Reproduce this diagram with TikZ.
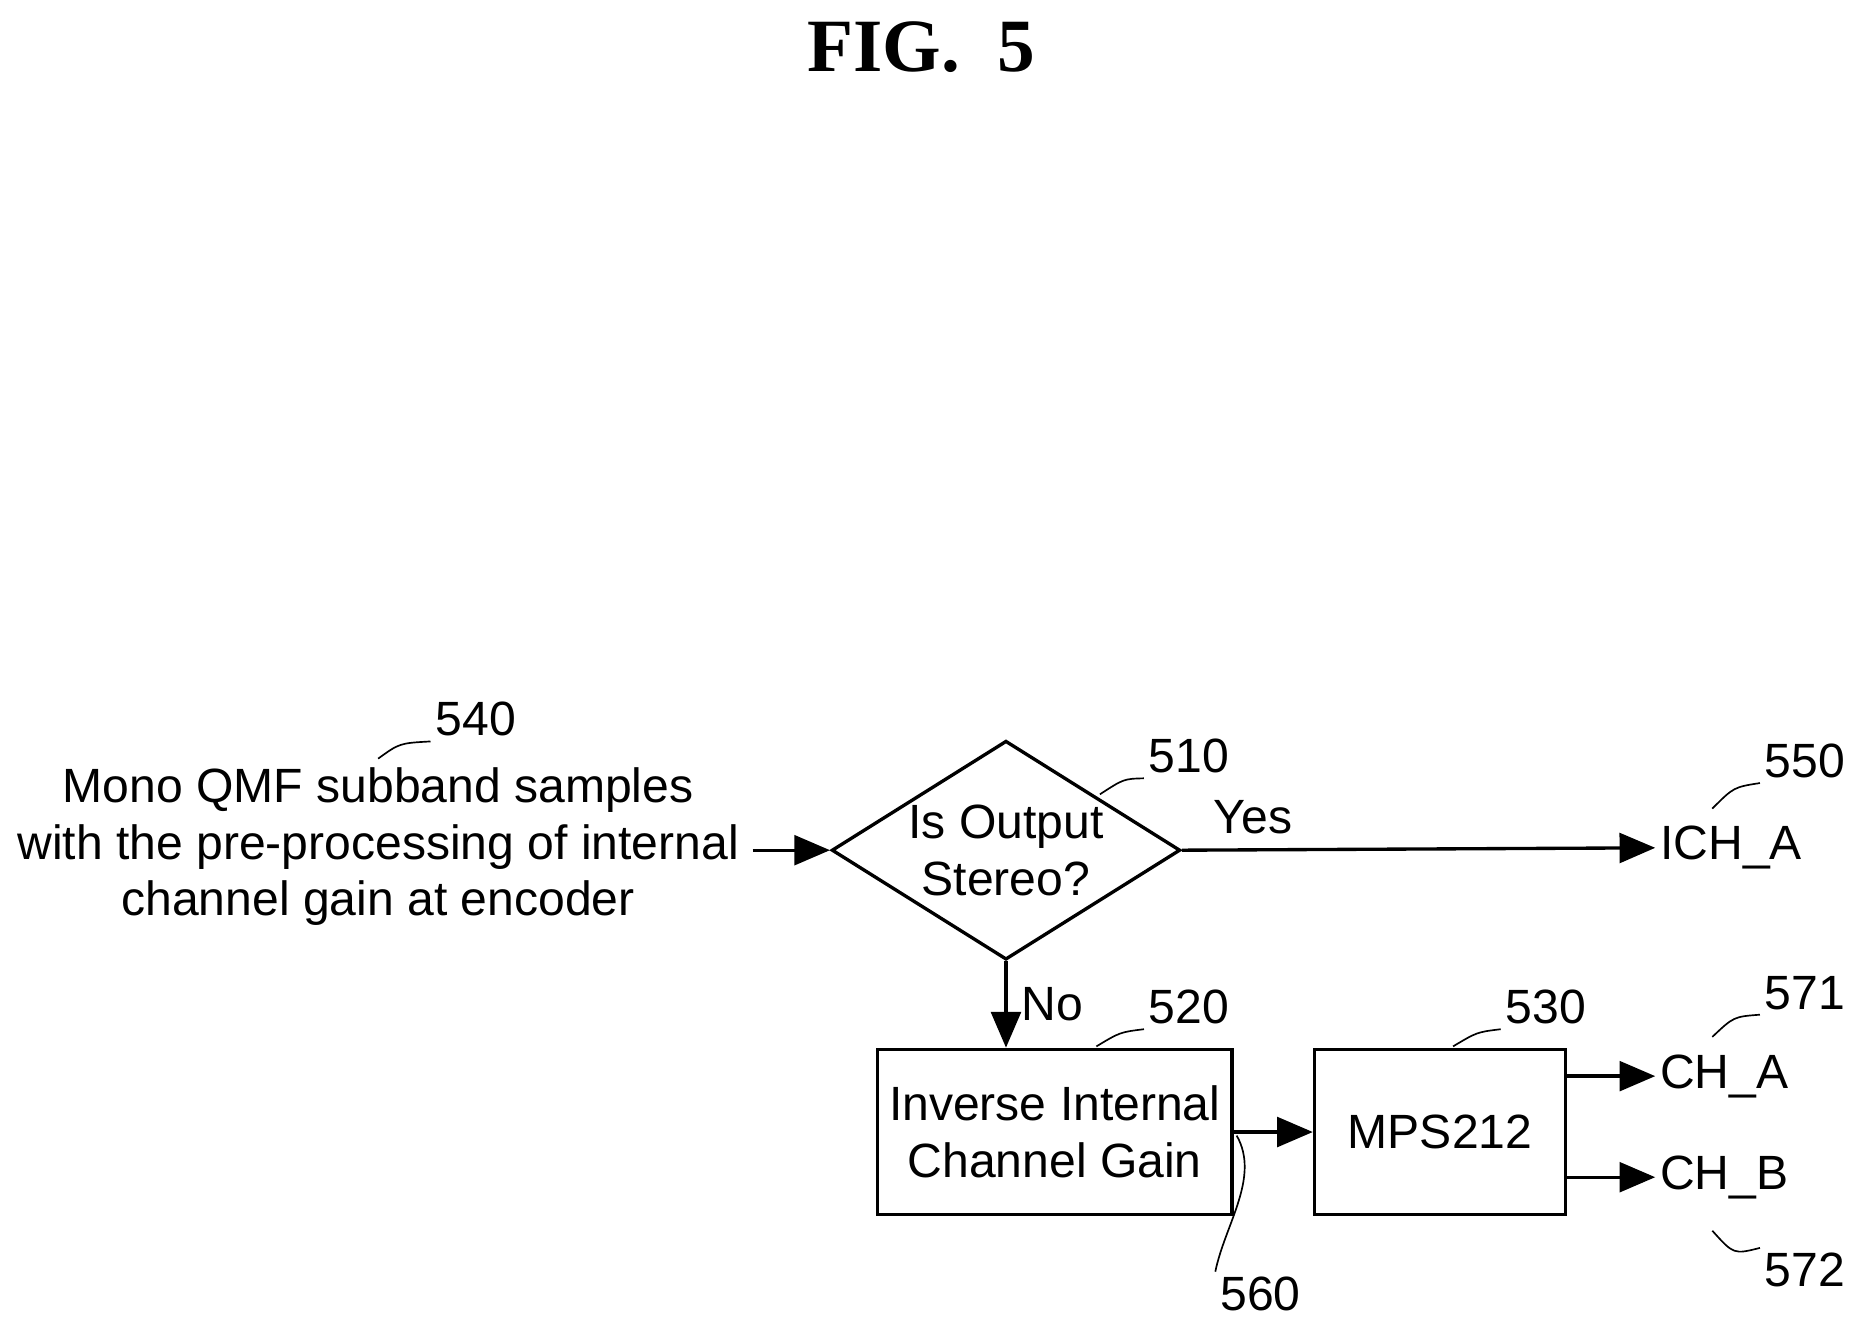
\documentclass[tikz,border=0pt]{standalone}
\usepackage{fontspec}
\setmainfont{Liberation Sans}
\newfontfamily\titlefont{Liberation Serif}
\usetikzlibrary{arrows.meta,shapes.geometric,positioning}

\begin{document}
\begin{tikzpicture}[
    x=0.01cm, y=-0.01cm,
    txt/.style={font=\fontsize{11.5}{13.6}\selectfont},
    block/.style={rectangle, draw, thick, minimum width=2.98cm, minimum height=1.39cm, align=center, txt, inner sep=0pt},
    decision/.style={diamond, draw, thick, minimum width=2.93cm, minimum height=1.84cm, aspect=1.6, align=center, txt, inner sep=0pt},
    tag/.style={txt, inner sep=1pt},
    flow/.style={-{Triangle[length=0.3cm,width=0.25cm]}, thick},
    lead/.style={thin}
]
\useasboundingbox (0,0) rectangle (1560,1116);

% Title
\node[font=\titlefont\bfseries\fontsize{18}{22}\selectfont] (title) at (775,40) {FIG.~~5};

% Input
\node[align=center, txt, inner sep=0pt] (input) at (318,712) {Mono QMF subband samples\\with the pre-processing of internal\\channel gain at encoder};
\coordinate (inEnd) at (633,715);

% Blocks
\node[decision] (stereo) at (846,715) {Is Output\\Stereo?};
\node[block] (gain) at (887,952) {Inverse Internal\\Channel Gain};
\node[block, minimum width=2.11cm] (mps) at (1211,952) {MPS212};

% Outputs
\node[tag, anchor=west] (ichA) at (1392,713) {ICH\_A};
\node[tag, anchor=west] (chA) at (1392,905) {CH\_A};
\node[tag, anchor=west] (chB) at (1392,990) {CH\_B};

% Arrows
\draw[flow] (inEnd) -- (stereo.west);
\draw[flow] (stereo.east) -- node[above, txt, pos=0.15] {Yes} (ichA.west);
\draw[flow] (stereo.south) -- node[right, txt] {No} (stereo.south |- gain.north);
\draw[flow] (gain.east) -- (mps.west);
\draw[flow] (mps.east |- chA) -- (chA.west);
\draw[flow] (mps.east |- chB) -- (chB.west);

% Reference numerals
\node[tag] (n540) at (400,605) {540};
\node[tag] (n510) at (1000,636) {510};
\node[tag] (n550) at (1518,640) {550};
\node[tag] (n520) at (1000,847) {520};
\node[tag] (n530) at (1300,847) {530};
\node[tag] (n571) at (1518,835) {571};
\node[tag] (n572) at (1518,1068) {572};
\node[tag] (n560) at (1060,1088) {560};

\draw[lead] (318,638) .. controls (336,625) .. (n540.south west);
\draw[lead] (925,668) .. controls (945,655) .. (n510.south west);
\draw[lead] (1440,680) .. controls (1458,662) .. (n550.south west);
\draw[lead] (922,880) .. controls (942,868) .. (n520.south west);
\draw[lead] (1222,880) .. controls (1242,868) .. (n530.south west);
\draw[lead] (1440,872) .. controls (1458,855) .. (n571.south west);
\draw[lead] (1440,1035) .. controls (1458,1055) .. (n572.north west);
\draw[lead] (1040,955) .. controls (1060,990) and (1030,1030) .. (n560.north west);
\end{tikzpicture}
\end{document}
